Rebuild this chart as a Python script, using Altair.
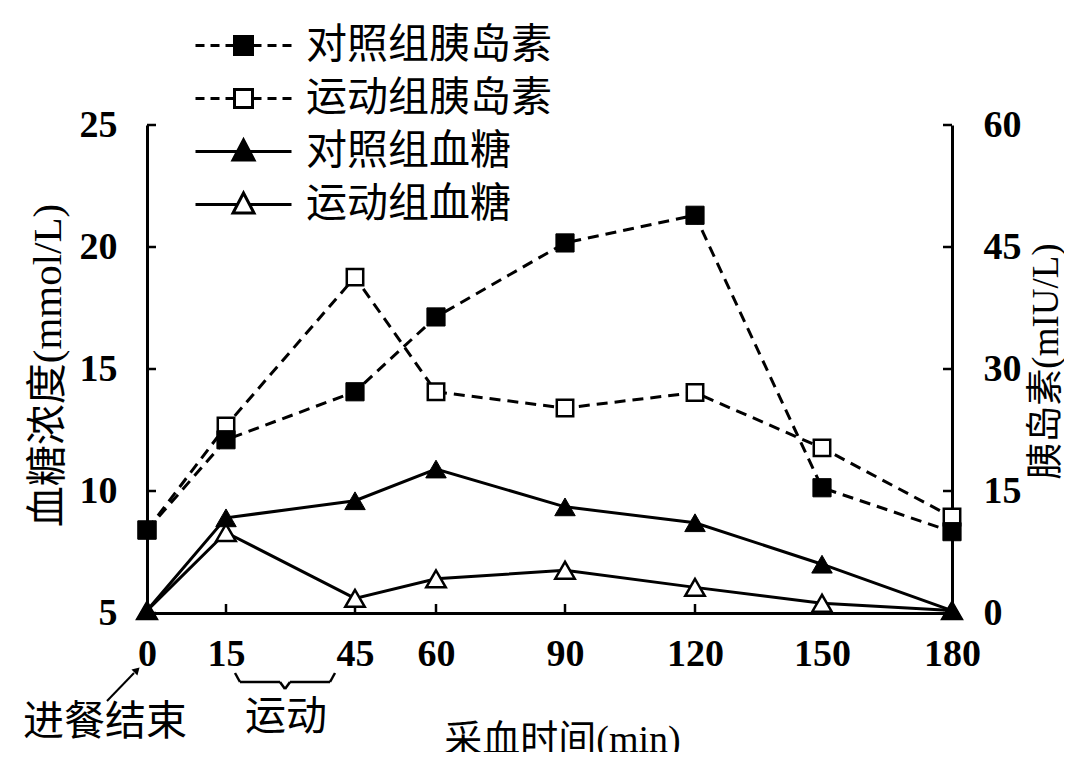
import altair as alt
import pandas as pd

# ---------------- data ----------------
times = [0, 15, 45, 60, 90, 120, 150, 180]
ctrl_insulin = [10.2, 21.3, 27.2, 36.4, 45.5, 48.9, 15.4, 10.0]
ex_insulin = [10.2, 23.0, 41.3, 27.2, 25.2, 27.1, 20.3, 11.8]
ctrl_glucose = [5.1, 8.9, 9.6, 10.9, 9.35, 8.7, 7.0, 5.1]
ex_glucose = [5.1, 8.3, 5.6, 6.4, 6.75, 6.05, 5.4, 5.1]
series_names = ["对照组胰岛素", "运动组胰岛素", "对照组血糖", "运动组血糖"]
glucose_ticks = [5, 10, 15, 20, 25]
insulin_ticks = [0, 15, 30, 45, 60]

W, H = 805, 488
# uneven horizontal spacing of the sampling times in the original figure
x_range = [0, 79, 208, 289, 418, 548, 675, 805]


def long(vals, name):
    return pd.DataFrame({"time": times, "value": vals, "series": name})


ins_df = pd.concat([long(ctrl_insulin, series_names[0]), long(ex_insulin, series_names[1])])
glu_df = pd.concat([long(ctrl_glucose, series_names[2]), long(ex_glucose, series_names[3])])
glu_tick_df = pd.DataFrame({"value": glucose_ticks})
ins_tick_df = pd.DataFrame({"value": insulin_ticks})
time_df = pd.DataFrame({"time": times})
one = pd.DataFrame({"k": [0]})

NUM_FONT = "Liberation Serif"
CJK_FONT = "Noto Sans CJK SC"
MIX_FONT = "Liberation Serif, Noto Sans CJK SC"

x_axis = alt.Axis(values=times, title="采血时间(min)", ticks=False, grid=False,
                  domainColor="black", domainWidth=3, labelPadding=22,
                  labelFont=NUM_FONT, labelFontSize=38, labelFontWeight="bold",
                  labelColor="black", titleFont=MIX_FONT, titleFontSize=38,
                  titleFontWeight="normal", titleColor="black",
                  titleX=415, titleY=127, titleBaseline="middle", titleAlign="center",
                  labelFlush=False, labelOverlap=False)
x_scale = alt.Scale(domain=times, range=x_range, nice=False, zero=False)
X = alt.X("time:Q", scale=x_scale, axis=x_axis)

glu_scale = alt.Scale(domain=[5, 25], nice=False, zero=False)
ins_scale = alt.Scale(domain=[0, 60], nice=False, zero=False)

left_axis = alt.Axis(values=glucose_ticks, orient="left", title="血糖浓度(mmol/L)",
                     ticks=False, grid=False, domainColor="black", domainWidth=3,
                     labelPadding=30, labelFont=NUM_FONT, labelFontSize=38,
                     labelFontWeight="bold", labelColor="black",
                     titleFont=MIX_FONT, titleFontSize=41, titleFontWeight="normal",
                     titleColor="black", titleAngle=270, titleX=-99, titleY=240,
                     titleBaseline="middle", titleAlign="center", labelFlush=False)
right_axis = alt.Axis(values=insulin_ticks, orient="right", title="胰岛素(mIU/L)",
                      ticks=False, grid=False, domainColor="black", domainWidth=3,
                      labelPadding=31, labelFont=NUM_FONT, labelFontSize=38,
                      labelFontWeight="bold", labelColor="black",
                      titleFont=MIX_FONT, titleFontSize=37, titleFontWeight="normal",
                      titleColor="black", titleAngle=270, titleX=94, titleY=236,
                      titleBaseline="middle", titleAlign="center", labelFlush=False)

Yg = alt.Y("value:Q", scale=glu_scale, axis=left_axis)
Yi = alt.Y("value:Q", scale=ins_scale, axis=right_axis)

# ---------------- legend (symbol paths: line + marker) ----------------
sq = "M-0.9,-0.9H0.9V0.9H-0.9Z"
tri = "M0,-1.15L1.05,0.85L-1.05,0.85Z"
dashes = ("M-4.8,0H-3.9M-3.3,0H-2.4M-1.8,0H-0.9"
          "M0.9,0H1.8M2.4,0H3.3M3.9,0H4.8")
solid = "M-4.8,0H-0.6M0.6,0H4.8"
legend_paths = [dashes + sq, dashes + sq, solid + tri, solid + tri]
legend_fills = ["black", "white", "black", "white"]

leg = alt.Legend(title=None, orient="none", legendX=76, legendY=-100,
                 symbolSize=400, symbolStrokeColor="black", symbolStrokeWidth=3,
                 symbolOpacity=1, labelFont=CJK_FONT, labelFontSize=41,
                 labelColor="black", labelOffset=42, rowPadding=11, padding=0,
                 labelLimit=400)

legend_dummy = alt.Chart(pd.concat([ins_df, glu_df])).mark_point(
    opacity=0, filled=True, strokeWidth=3).encode(
    x=X,
    shape=alt.Shape("series:N", scale=alt.Scale(domain=series_names, range=legend_paths), legend=leg),
    fill=alt.Fill("series:N", scale=alt.Scale(domain=series_names, range=legend_fills), legend=leg),
    stroke=alt.Stroke("series:N", scale=alt.Scale(domain=series_names, range=["black"] * 4), legend=leg),
)

# ---------------- glucose (left axis) ----------------
glu_lines = alt.Chart(glu_df).mark_line(color="black", strokeWidth=3).encode(
    x=X, y=Yg, detail="series:N")
ex_glu_pts = alt.Chart(glu_df).transform_filter(
    alt.datum.series == series_names[3]).mark_point(
    shape="triangle-up", filled=True, fill="white", stroke="black",
    strokeWidth=2.5, size=380, opacity=1).encode(x=X, y=Yg)
ctrl_glu_pts = alt.Chart(glu_df).transform_filter(
    alt.datum.series == series_names[2]).mark_point(
    shape="triangle-up", filled=True, fill="black", stroke="black",
    strokeWidth=1, size=420, opacity=1).encode(x=X, y=Yg)
left_ticks = alt.Chart(glu_tick_df).mark_rule(color="black", strokeWidth=2.5).encode(
    y=Yg, x=alt.value(0), x2=alt.value(9))
bottom_ticks = alt.Chart(time_df).mark_rule(color="black", strokeWidth=2.5).encode(
    x=X, y=alt.value(H), y2=alt.value(H - 9))

glu_layer = alt.layer(left_ticks, bottom_ticks, glu_lines, ex_glu_pts, ctrl_glu_pts, legend_dummy)

# ---------------- insulin (right axis) ----------------
ins_lines = alt.Chart(ins_df).mark_line(color="black", strokeWidth=3, strokeDash=[11, 7]).encode(
    x=X, y=Yi, detail="series:N")
ex_ins_pts = alt.Chart(ins_df).transform_filter(
    alt.datum.series == series_names[1]).mark_point(
    shape="square", filled=True, fill="white", stroke="black",
    strokeWidth=2.5, size=270, opacity=1).encode(x=X, y=Yi)
ctrl_ins_pts = alt.Chart(ins_df).transform_filter(
    alt.datum.series == series_names[0]).mark_point(
    shape="square", filled=True, fill="black", stroke="black",
    strokeWidth=1, size=330, opacity=1).encode(x=X, y=Yi)
right_ticks = alt.Chart(ins_tick_df).mark_rule(color="black", strokeWidth=2.5).encode(
    y=Yi, x=alt.value(W), x2=alt.value(W - 9))

ins_layer = alt.layer(right_ticks, ins_lines, ex_ins_pts, ctrl_ins_pts)


# ---------------- annotations ----------------
def seg(x1, y1, x2, y2, w=2.5):
    return alt.Chart(one).mark_rule(color="black", strokeWidth=w).encode(
        x=alt.value(x1), y=alt.value(y1), x2=alt.value(x2), y2=alt.value(y2))


brace = [
    seg(88, 548, 93, 557), seg(93, 557, 133, 557), seg(133, 557, 138, 564),
    seg(138, 564, 143, 557), seg(143, 557, 183, 557), seg(183, 557, 188, 548),
]
arrow = [
    seg(-40, 576, -13, 548, 2),
    alt.Chart(one).mark_point(shape="triangle-up", angle=45, filled=True, color="black",
                              size=70, opacity=1).encode(x=alt.value(-10), y=alt.value(545)),
]
texts = [
    alt.Chart(one).mark_text(text="进餐结束", font=CJK_FONT, fontSize=41, color="black",
                             align="center", baseline="middle").encode(
        x=alt.value(-42), y=alt.value(598)),
    alt.Chart(one).mark_text(text="运动", font=CJK_FONT, fontSize=41, color="black",
                             align="center", baseline="middle").encode(
        x=alt.value(139), y=alt.value(593)),
]

chart = alt.layer(ins_layer, glu_layer, *brace, *arrow, *texts).resolve_scale(
    y="independent"
).properties(
    width=W, height=H,
    autosize=alt.AutoSizeParams(type="none"),
    padding={"left": 139, "top": 117, "right": 112, "bottom": 139},
    background="white",
).configure_view(strokeWidth=0).configure_legend(symbolStrokeWidth=3)

chart.save("out.html", embed_options={"renderer": "svg", "actions": False})
